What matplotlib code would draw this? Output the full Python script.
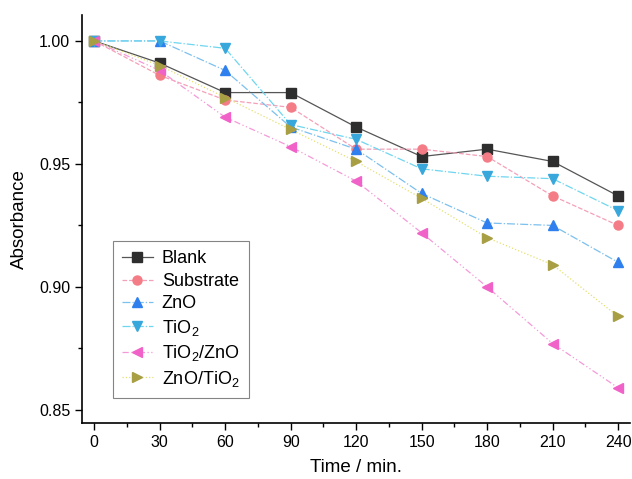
import numpy as np
import matplotlib
matplotlib.use("Agg")
from matplotlib import pyplot as plt
from matplotlib.ticker import MultipleLocator

plt.rcParams['font.family'] = ['Liberation Sans', 'DejaVu Sans']
plt.rcParams['mathtext.fontset'] = 'custom'
plt.rcParams['mathtext.rm'] = 'Liberation Sans'

time = [0, 30, 60, 90, 120, 150, 180, 210, 240]

blank = [1.000, 0.991, 0.979, 0.979, 0.965, 0.953, 0.956, 0.951, 0.937]
substrate = [1.000, 0.986, 0.976, 0.973, 0.956, 0.956, 0.953, 0.937, 0.925]
zno = [1.000, 1.000, 0.988, 0.965, 0.956, 0.938, 0.926, 0.925, 0.910]
tio2 = [1.000, 1.000, 0.997, 0.966, 0.960, 0.948, 0.945, 0.944, 0.931]
tio2_zno = [1.000, 0.988, 0.969, 0.957, 0.943, 0.922, 0.900, 0.877, 0.859]
zno_tio2 = [1.000, 0.990, 0.977, 0.964, 0.951, 0.936, 0.920, 0.909, 0.888]

labels = ['Blank', 'Substrate', 'ZnO', r'TiO$_\mathrm{2}$',
          r'TiO$_\mathrm{2}$/ZnO', r'ZnO/TiO$_\mathrm{2}$']

fig = plt.figure(figsize=(6.32, 4.79), dpi=100)
ax = fig.add_axes([0.13, 0.117, 0.867, 0.852])

# marker colour, line colour, line style, marker
styles = [
    ('#2e2e2e', '#555555', '-', 's'),
    ('#f47c86', '#f4a0b8', '--', 'o'),
    ('#2f80ee', '#7cc0ee', '-.', '^'),
    ('#38a8dc', '#6fd6f0', '-.', 'v'),
    ('#f062c8', '#f49ad8', (0, (5, 2, 1, 2, 1, 2)), '<'),
    ('#a89f44', '#e6e070', ':', '>'),
]
series = [blank, substrate, zno, tio2, tio2_zno, zno_tio2]

for vals, lab, (mc, lc, ls, mk) in zip(series, labels, styles):
    ax.plot(time, vals, color=lc, linestyle=ls, linewidth=0.9,
            marker=mk, markersize=6.5, markerfacecolor=mc,
            markeredgecolor=mc, label=lab)

ax.set_xlim(-5.5, 245.5)
ax.set_ylim(0.8447, 1.0106)
ax.xaxis.set_major_locator(MultipleLocator(30))
ax.xaxis.set_minor_locator(MultipleLocator(15))
ax.yaxis.set_major_locator(MultipleLocator(0.05))
ax.yaxis.set_minor_locator(MultipleLocator(0.025))
ax.yaxis.set_major_formatter(plt.FormatStrFormatter('%.2f'))

ax.spines['top'].set_visible(False)
ax.spines['right'].set_visible(False)
for s in ['left', 'bottom']:
    ax.spines[s].set_linewidth(1.2)
ax.tick_params(which='major', direction='out', length=5, width=1, labelsize=11.5)
ax.tick_params(which='minor', direction='out', length=3, width=1)

ax.set_xlabel('Time / min.', fontsize=13.5, labelpad=7)
ax.set_ylabel('Absorbance', fontsize=13.5, labelpad=8)

leg = ax.legend(loc='lower left', bbox_to_anchor=(0.04, 0.04), fontsize=13,
                frameon=True, fancybox=False, edgecolor='#666666',
                handlelength=1.7, handletextpad=0.5, labelspacing=0.3,
                borderpad=0.5)
leg.get_frame().set_linewidth(0.8)

plt.savefig('out.png', dpi=100)
